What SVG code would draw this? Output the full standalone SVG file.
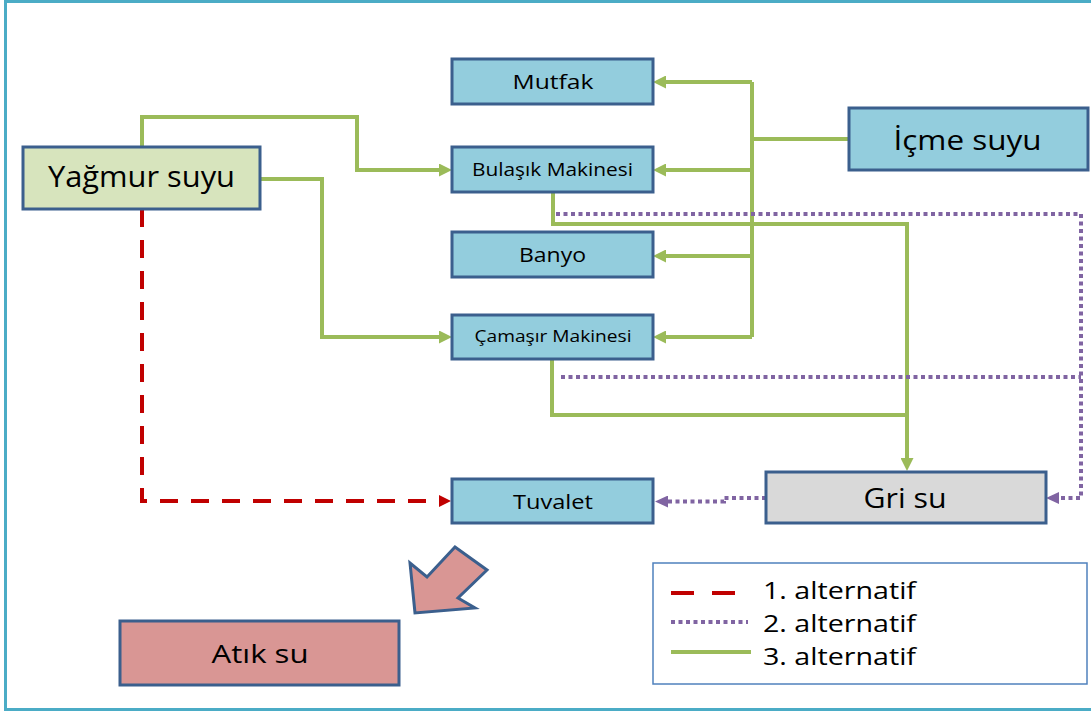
<svg xmlns="http://www.w3.org/2000/svg" width="1091" height="711" viewBox="0 0 1091 711">
  <style>
    .box { stroke: #3B5F8D; stroke-width: 3; }
    .blue { fill: #93CDDD; }
    .lbl { font-family: "Open Sans", "Noto Sans", "Liberation Sans", sans-serif; fill: #000; text-anchor: middle; }
    .leg { font-family: "Open Sans", "Noto Sans", "Liberation Sans", sans-serif; fill: #000; font-size: 23px; }
    .green { fill: none; stroke: #9BBB59; stroke-width: 4; }
    .red { fill: none; stroke: #C00000; stroke-width: 4; stroke-dasharray: 18 13; }
    .purple { fill: none; stroke: #8064A2; stroke-width: 4; stroke-dasharray: 4 3.5; }
  </style>
  <defs>
    <marker id="ahGreen" markerUnits="userSpaceOnUse" markerWidth="14" markerHeight="13" refX="5" refY="6.5" orient="auto">
      <path d="M0,0 L13,6.5 L0,13 z" fill="#9BBB59"/>
    </marker>
    <marker id="ahRed" markerUnits="userSpaceOnUse" markerWidth="13" markerHeight="12" refX="5" refY="6" orient="auto">
      <path d="M0,0 L12,6 L0,12 z" fill="#C00000"/>
    </marker>
    <marker id="ahPurple" markerUnits="userSpaceOnUse" markerWidth="14" markerHeight="12" refX="5" refY="6" orient="auto">
      <path d="M0,0 L13,6 L0,12 z" fill="#8064A2"/>
    </marker>
  </defs>

  <rect x="0" y="0" width="1091" height="711" fill="#FFFFFF"/>
  <!-- outer frame -->
  <rect x="5.5" y="1.5" width="1100" height="708" fill="none" stroke="#4BACC6" stroke-width="3"/>

  <g id="connectors">
    <!-- rain water routes -->
    <path class="green" d="M142,147 V117 H357 V170 H444" marker-end="url(#ahGreen)"/>
    <path class="green" d="M260,179 H322 V337 H444" marker-end="url(#ahGreen)"/>
    <path class="red" d="M142,209 V501 H444" marker-end="url(#ahRed)"/>
    <!-- drinking water distribution -->
    <path class="green" d="M849,139 H752"/>
    <path class="green" d="M752,82 V337"/>
    <path class="green" d="M752,82 H661" marker-end="url(#ahGreen)"/>
    <path class="green" d="M752,170 H661" marker-end="url(#ahGreen)"/>
    <path class="green" d="M752,256 H661" marker-end="url(#ahGreen)"/>
    <path class="green" d="M752,337 H661" marker-end="url(#ahGreen)"/>
    <!-- machine outlets to grey water -->
    <path class="green" d="M553,192 V224 H907 V463" marker-end="url(#ahGreen)"/>
    <path class="green" d="M552,359 V415 H907"/>
    <path class="purple" d="M556,214 H1081 V498 H1054" marker-end="url(#ahPurple)"/>
    <path class="purple" d="M561,377 H1081"/>
    <!-- grey water reuse -->
    <path class="purple" d="M766,498 H724 V501.5 H663" marker-end="url(#ahPurple)"/>
  </g>

  <g id="yagmur-suyu">
    <rect class="box" x="23" y="147" width="237" height="62" fill="#D7E4BD"/>
    <text class="lbl" x="141.5" y="187" font-size="29" textLength="187" lengthAdjust="spacingAndGlyphs">Yağmur suyu</text>
  </g>
  <g id="mutfak">
    <rect class="box blue" x="452" y="59" width="201" height="45"/>
    <text class="lbl" x="553" y="89" font-size="20" textLength="81" lengthAdjust="spacingAndGlyphs">Mutfak</text>
  </g>
  <g id="bulasik-makinesi">
    <rect class="box blue" x="452" y="147" width="201" height="45"/>
    <text class="lbl" x="552.5" y="176" font-size="18" textLength="161" lengthAdjust="spacingAndGlyphs">Bulaşık Makinesi</text>
  </g>
  <g id="banyo">
    <rect class="box blue" x="452" y="232" width="201" height="45"/>
    <text class="lbl" x="552.5" y="262" font-size="20" textLength="67" lengthAdjust="spacingAndGlyphs">Banyo</text>
  </g>
  <g id="camasir-makinesi">
    <rect class="box blue" x="452" y="315" width="201" height="44"/>
    <text class="lbl" x="553" y="342" font-size="17" textLength="157" lengthAdjust="spacingAndGlyphs">Çamaşır Makinesi</text>
  </g>
  <g id="tuvalet">
    <rect class="box blue" x="452" y="479" width="201" height="44"/>
    <text class="lbl" x="553" y="509" font-size="20" textLength="80" lengthAdjust="spacingAndGlyphs">Tuvalet</text>
  </g>
  <g id="icme-suyu">
    <rect class="box blue" x="849" y="108" width="239" height="62"/>
    <text class="lbl" x="967.5" y="150" font-size="28" textLength="148" lengthAdjust="spacingAndGlyphs">İçme suyu</text>
  </g>
  <g id="gri-su">
    <rect class="box" x="766" y="472" width="280" height="51" fill="#D9D9D9"/>
    <text class="lbl" x="905" y="508" font-size="27" textLength="83" lengthAdjust="spacingAndGlyphs">Gri su</text>
  </g>
  <g id="atik-su">
    <rect class="box" x="120" y="621" width="279" height="64" fill="#D99694"/>
    <text class="lbl" x="260" y="663" font-size="26" textLength="97" lengthAdjust="spacingAndGlyphs">Atık su</text>
  </g>
  <g id="atik-su-arrow">
    <polygon class="box" points="415,613 410,563 427,577 455,547 487,570 458,598 475,608" fill="#D99694" stroke-linejoin="miter"/>
  </g>

  <g id="legend">
    <rect x="653" y="563" width="434" height="121" fill="#FFFFFF" stroke="#4F81BD" stroke-width="1.5"/>
    <path d="M671,593 H694 M712,593 H735" stroke="#C00000" stroke-width="4" fill="none"/>
    <path class="purple" d="M671,622 H748"/>
    <path d="M671,652 H751" stroke="#9BBB59" stroke-width="4" fill="none"/>
    <text class="leg" x="763" y="599" textLength="153" lengthAdjust="spacingAndGlyphs">1. alternatif</text>
    <text class="leg" x="763" y="632" textLength="153" lengthAdjust="spacingAndGlyphs">2. alternatif</text>
    <text class="leg" x="763" y="665" textLength="153" lengthAdjust="spacingAndGlyphs">3. alternatif</text>
  </g>
</svg>
